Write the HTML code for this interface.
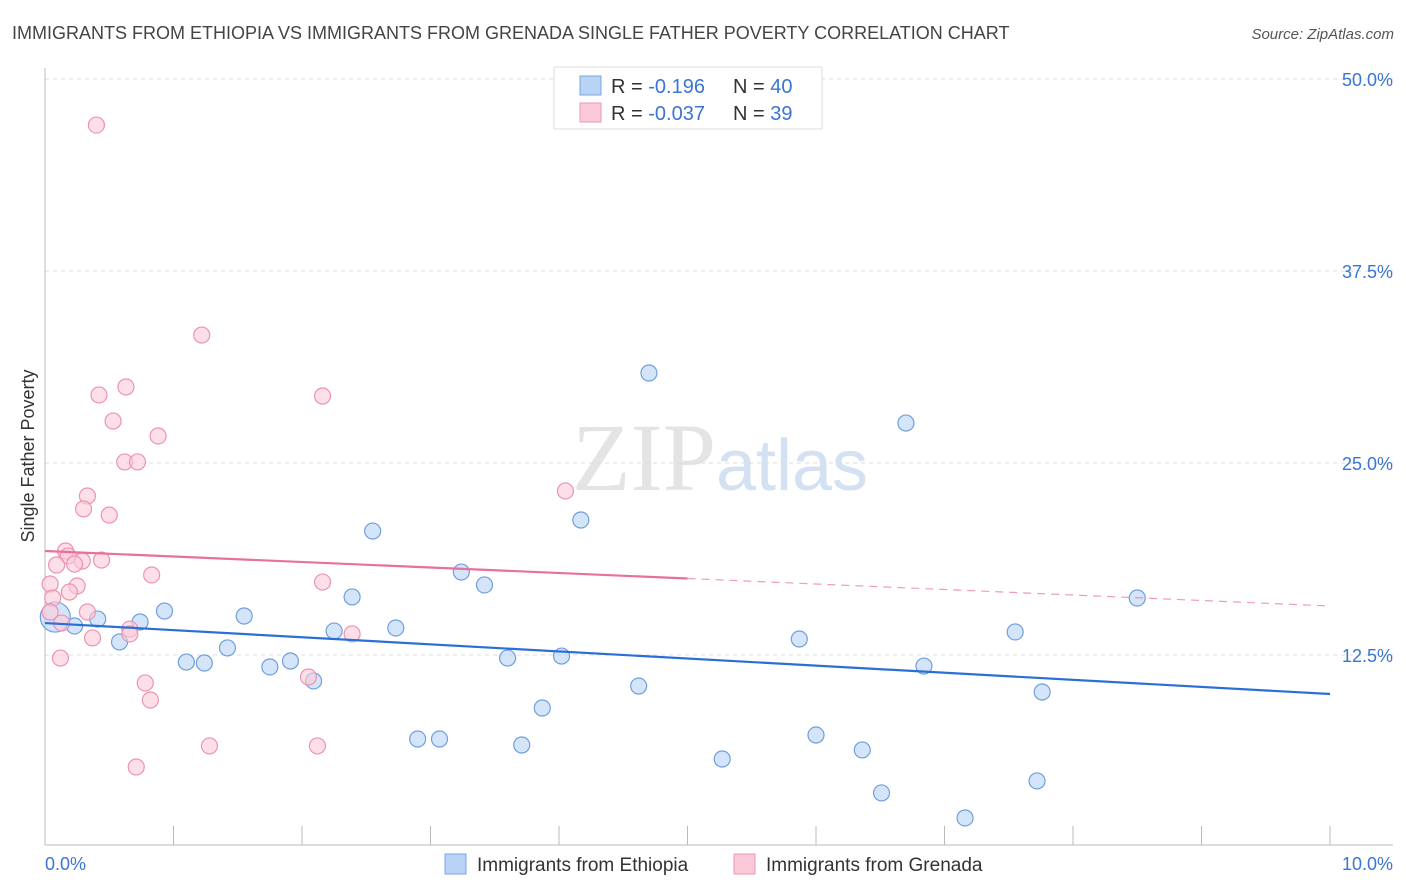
<!DOCTYPE html>
<html><head><meta charset="utf-8"><style>
body{margin:0;background:#fff;font-family:"Liberation Sans",sans-serif;}
svg{display:block}
</style></head><body>
<svg id="chart" width="1406" height="892" xmlns="http://www.w3.org/2000/svg" font-family="Liberation Sans, sans-serif">
<text x="12" y="39" font-size="18" fill="#444">IMMIGRANTS FROM ETHIOPIA VS IMMIGRANTS FROM GRENADA SINGLE FATHER POVERTY CORRELATION CHART</text>
<text x="1394" y="39" font-size="15" fill="#555" font-style="italic" text-anchor="end">Source: ZipAtlas.com</text>
<text x="720" y="490" font-size="96" text-anchor="middle" fill="#e4e4e4" font-family="Liberation Serif, serif">ZIP<tspan fill="#d3e1f3" font-family="Liberation Sans, sans-serif" font-size="72">atlas</tspan></text>
<g id="grid"></g>
<g id="axes"></g>
<g id="marks"></g>
<text transform="translate(34,456) rotate(-90)" font-size="18" fill="#333" text-anchor="middle">Single Father Poverty</text>
<g>
<rect x="554" y="67" width="268" height="62" fill="#fff" stroke="#ddd"/>
<rect x="580" y="76" width="21" height="19" fill="#b8d3f5" stroke="#7aa7e0"/>
<text x="611" y="93" font-size="20" fill="#333">R = <tspan fill="#3a75d4">-0.196</tspan><tspan x="733">N = </tspan><tspan fill="#3a75d4">40</tspan></text>
<rect x="580" y="103" width="21" height="19" fill="#fbc9d8" stroke="#ee97b3"/>
<text x="611" y="120" font-size="20" fill="#333">R = <tspan fill="#3a75d4">-0.037</tspan><tspan x="733">N = </tspan><tspan fill="#3a75d4"> 39</tspan></text>
</g>
<g>
<rect x="445" y="854" width="21" height="20" fill="#b8d3f5" stroke="#7aa7e0"/>
<text x="477" y="871" font-size="19" fill="#333">Immigrants from Ethiopia</text>
<rect x="734" y="854" width="21" height="20" fill="#fbc9d8" stroke="#ee97b3"/>
<text x="766" y="871" font-size="19" fill="#333">Immigrants from Grenada</text>
</g>
</svg>
<script>
const ethX=[0.08,0.23,0.41,0.58,0.74,0.93,1.10,1.24,1.42,1.55,1.75,1.91,2.09,2.25,2.39,2.55,2.73,2.90,3.07,3.24,3.42,3.60,3.71,3.87,4.02,4.17,4.62,4.70,5.27,5.87,6.00,6.36,6.51,6.70,6.84,7.16,7.55,7.72,7.76,8.50];
const ethY=[14.97,14.39,14.84,13.35,14.65,15.36,12.04,11.98,12.96,15.04,11.72,12.11,10.81,14.06,16.28,20.57,14.26,7.03,7.03,17.90,17.06,12.30,6.64,9.05,12.43,21.29,10.48,30.86,5.73,13.54,7.29,6.32,3.52,27.60,11.78,1.89,14.00,4.30,10.09,16.21];
const grnX=[0.40,1.22,0.63,0.42,2.16,0.53,0.88,0.62,0.72,4.05,0.33,0.30,0.50,0.16,0.18,0.29,0.44,0.23,0.09,0.04,0.25,0.19,0.06,0.83,2.16,0.33,0.04,0.13,0.66,0.66,0.37,2.39,0.12,2.05,0.78,0.82,1.28,2.12,0.71];
const grnY=[47.0,33.33,29.95,29.43,29.36,27.73,26.76,25.07,25.07,23.18,22.85,22.01,21.61,19.27,18.95,18.62,18.68,18.42,18.36,17.12,16.99,16.60,16.21,17.71,17.25,15.30,15.30,14.58,14.19,13.87,13.61,13.87,12.30,11.07,10.68,9.57,6.58,6.58,5.21];
const ethTrend=[14.58,9.96];
const grnTrend=[19.27,15.69];
const grnSolidEnd=5.0;
const yTicks=[12.5,25.0,37.5,50.0];
const xTicks=[0,1,2,3,4,5,6,7,8,9,10];
const NS="http://www.w3.org/2000/svg";
const sx=v=>45+v*128.5;
const sy=v=>847-v*15.36;
function mk(tag,attrs,parent){const e=document.createElementNS(NS,tag);for(const k in attrs)e.setAttribute(k,attrs[k]);document.getElementById(parent).appendChild(e);return e;}
yTicks.forEach(t=>{
 const l=mk('line',{x1:45,x2:1393,y1:sy(t),y2:sy(t),stroke:'#ddd','stroke-dasharray':'4,4'},'grid');
 
 
 const tx=mk('text',{x:1393,y:sy(t)+7,'font-size':18,fill:'#3a75d4','text-anchor':'end'},'grid');
 tx.textContent=t.toFixed(1)+'%';
 
 
});
const ax=mk('line',{x1:45,x2:1393,y1:845,y2:845,stroke:'#bbb'},'axes');


const ay=mk('line',{x1:45,x2:45,y1:68,y2:845,stroke:'#bbb'},'axes');


xTicks.forEach(t=>{
 const l=mk('line',{x1:sx(t),x2:sx(t),y1:826,y2:845,stroke:'#bbb'},'axes');
 
 
});
[[0,'start',45],[10,'end',1393]].forEach(([v,a,x])=>{
 const tx=mk('text',{x:x,y:870,'font-size':18,fill:'#3a75d4','text-anchor':a},'axes');
 tx.textContent=v.toFixed(1)+'%';
 
 
});
ethX.forEach((x,i)=>{
 const c=mk('circle',{cx:sx(x),cy:sy(ethY[i]),r:i===0?15:8,fill:'#b8d3f5','fill-opacity':0.6,stroke:'#6f9fdc','stroke-width':1.2},'marks');
 
 
});
grnX.forEach((x,i)=>{
 const c=mk('circle',{cx:sx(x),cy:sy(grnY[i]),r:8,fill:'#fbc9d8','fill-opacity':0.6,stroke:'#ec93b0','stroke-width':1.2},'marks');
 
 
});
const bl=mk('line',{x1:sx(0),y1:sy(ethTrend[0]),x2:sx(10),y2:sy(ethTrend[1]),stroke:'#2a6fd6','stroke-width':2.2},'marks');


const gm=grnTrend[0]+(grnTrend[1]-grnTrend[0])*grnSolidEnd/10;
const pl=mk('line',{x1:sx(0),y1:sy(grnTrend[0]),x2:sx(grnSolidEnd),y2:sy(gm),stroke:'#e8709a','stroke-width':2.2},'marks');


const pd=mk('line',{x1:sx(grnSolidEnd),y1:sy(gm),x2:sx(10),y2:sy(grnTrend[1]),stroke:'#e8709a','stroke-width':1.2,'stroke-dasharray':'8,6','stroke-opacity':0.7},'marks');


</script>
</body></html>
